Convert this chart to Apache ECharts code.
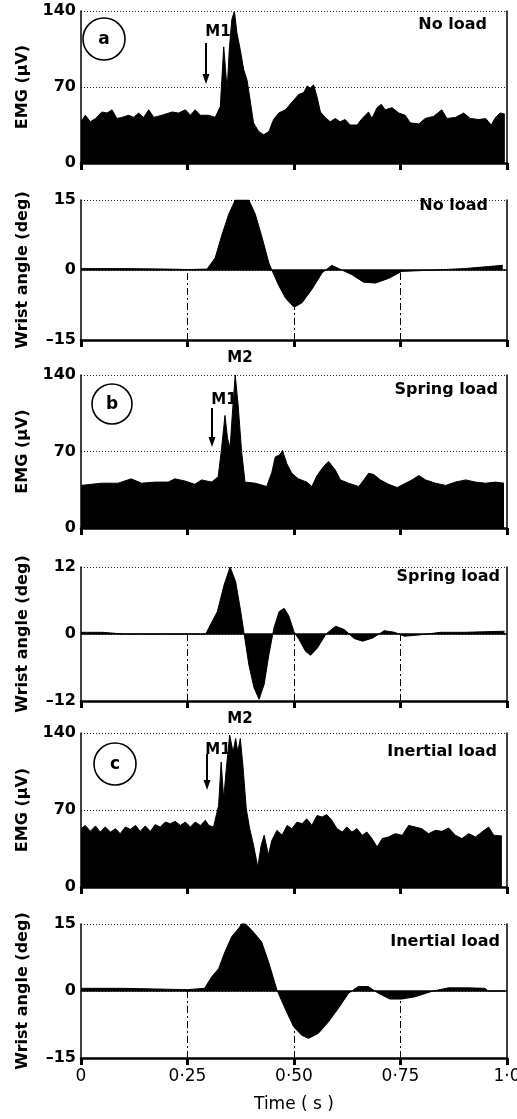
<!DOCTYPE html>
<html><head><meta charset="utf-8">
<style>html,body{margin:0;padding:0;background:#fff}#c{width:517px;height:1119px}</style>
<script src="https://cdn.jsdelivr.net/npm/echarts@6/dist/echarts.min.js"></script>
</head><body><div id="c"></div><script>
// ---- data ----
const timeTicks = [0, 0.25, 0.5, 0.75, 1];
const timeTickLabels = ['0', '0·25', '0·50', '0·75', '1·0'];
const conditions = ['No load', 'Spring load', 'Inertial load'];
const panelLetters = ['a', 'b', 'c'];
const emgRange = [0, 140];
const angleRanges = [[-15, 15], [-12, 12], [-15, 15]];

const emgNoLoad = [[0,38],[0.01,44],[0.022,38],[0.034,41],[0.049,47],[0.061,46],[0.073,49],[0.084,41],[0.096,42],[0.112,44],[0.124,42],[0.135,46],[0.147,42],[0.159,49],[0.171,42],[0.19,44],[0.214,47],[0.229,46],[0.245,49],[0.257,44],[0.268,49],[0.28,44],[0.30,44],[0.315,42],[0.327,52],[0.335,107],[0.339,88],[0.343,67],[0.348,104],[0.354,132],[0.36,140],[0.366,120],[0.374,104],[0.382,86],[0.39,76],[0.397,58],[0.405,37],[0.417,29],[0.429,26],[0.441,29],[0.452,40],[0.464,46],[0.48,49],[0.495,56],[0.511,63],[0.523,65],[0.531,71],[0.538,69],[0.546,72],[0.554,61],[0.562,47],[0.573,42],[0.585,38],[0.597,41],[0.608,38],[0.62,40],[0.632,35],[0.648,35],[0.66,41],[0.675,47],[0.683,41],[0.695,51],[0.705,54],[0.714,49],[0.73,51],[0.746,46],[0.761,44],[0.773,37],[0.793,36],[0.808,41],[0.828,43],[0.847,49],[0.859,41],[0.879,42],[0.898,46],[0.914,41],[0.934,40],[0.95,41],[0.963,35],[0.973,42],[0.984,46],[0.995,45]];

const angleNoLoad = [[0,0.3],[0.1,0.3],[0.2,0.2],[0.25,0.1],[0.296,0.2],[0.315,2.6],[0.331,7.6],[0.347,12],[0.362,15],[0.378,15],[0.394,15],[0.409,12],[0.425,7],[0.441,1.5],[0.448,0],[0.464,-3.3],[0.48,-6],[0.5,-8],[0.519,-7],[0.543,-4],[0.566,-0.6],[0.589,1],[0.605,0.3],[0.636,-1],[0.663,-2.6],[0.691,-2.8],[0.722,-1.8],[0.753,-0.3],[0.83,0],[0.9,0.3],[0.99,1]];

const emgSpring = [[0,39],[0.048,41],[0.087,41],[0.118,45],[0.142,41],[0.173,42],[0.205,42],[0.22,45],[0.244,43],[0.267,40],[0.283,44],[0.307,42],[0.322,47],[0.33,73],[0.338,103],[0.344,82],[0.35,73],[0.355,103],[0.362,140],[0.369,112],[0.377,70],[0.385,42],[0.409,41],[0.436,38],[0.448,51],[0.456,65],[0.467,67],[0.473,71],[0.483,59],[0.495,50],[0.51,45],[0.53,42],[0.542,38],[0.554,48],[0.569,56],[0.581,61],[0.597,53],[0.609,44],[0.628,41],[0.652,38],[0.664,44],[0.675,50],[0.687,49],[0.703,44],[0.722,40],[0.742,37],[0.762,41],[0.777,44],[0.793,48],[0.809,44],[0.832,41],[0.856,39],[0.879,42],[0.903,44],[0.926,42],[0.95,41],[0.973,42],[0.993,41]];

const angleSpring = [[0,0.3],[0.05,0.3],[0.1,0],[0.2,0],[0.293,0],[0.30,1.1],[0.32,4],[0.336,8.8],[0.35,12],[0.363,9.4],[0.375,4],[0.383,0],[0.394,-5.5],[0.406,-9.6],[0.418,-11.7],[0.43,-9],[0.441,-3.7],[0.453,1.1],[0.465,4],[0.477,4.6],[0.488,3.2],[0.5,0.4],[0.512,-1],[0.527,-3.1],[0.539,-3.8],[0.555,-2.5],[0.575,0],[0.598,1.4],[0.618,0.8],[0.641,-0.8],[0.661,-1.3],[0.685,-0.7],[0.712,0.6],[0.736,0.3],[0.759,-0.4],[0.79,-0.2],[0.845,0.3],[0.9,0.3],[0.994,0.5]];

const emgInertial = [[0,53],[0.01,56],[0.022,50.6],[0.034,55.5],[0.045,50],[0.057,54.5],[0.069,50],[0.081,53],[0.092,48.5],[0.104,54.5],[0.116,52.4],[0.128,56],[0.139,50.6],[0.151,55.5],[0.163,50.6],[0.174,56.7],[0.186,54.5],[0.198,59],[0.21,57.6],[0.221,59.7],[0.233,56],[0.245,59],[0.257,54.5],[0.268,59],[0.28,56],[0.292,60.6],[0.30,56],[0.311,54.5],[0.323,74],[0.329,113.6],[0.335,80],[0.341,107.6],[0.349,138],[0.357,122.7],[0.363,135],[0.368,122.7],[0.374,135],[0.38,110.6],[0.388,71],[0.396,53],[0.405,38],[0.415,18],[0.423,38],[0.43,47],[0.44,29],[0.448,42.4],[0.46,51.5],[0.472,47],[0.484,56],[0.495,53],[0.507,59],[0.519,57.6],[0.53,62],[0.542,56],[0.554,65],[0.566,63.6],[0.577,65.8],[0.589,60.6],[0.601,53],[0.613,50],[0.624,54.5],[0.636,50],[0.648,53],[0.66,47],[0.671,50],[0.683,44],[0.695,36.4],[0.707,44],[0.722,45.5],[0.738,48.5],[0.754,47],[0.769,56],[0.785,54.5],[0.80,53],[0.816,48.5],[0.832,51.5],[0.847,50.6],[0.863,53.6],[0.879,47],[0.894,44],[0.91,48.5],[0.926,45.5],[0.941,50],[0.957,54.5],[0.969,47],[0.988,46.4]];

const angleInertial = [[0,0.6],[0.1,0.6],[0.2,0.4],[0.25,0.3],[0.29,0.6],[0.307,3.2],[0.323,5],[0.338,8.8],[0.354,12.2],[0.37,14],[0.381,15.5],[0.40,13.7],[0.424,11],[0.44,6.6],[0.46,0.2],[0.479,-3.9],[0.499,-8],[0.518,-9.9],[0.534,-10.6],[0.557,-9.5],[0.581,-6.9],[0.604,-3.9],[0.628,-0.5],[0.651,1],[0.674,1],[0.698,-0.5],[0.725,-1.8],[0.753,-1.8],[0.784,-1.3],[0.823,-0.1],[0.862,0.7],[0.909,0.7],[0.948,0.6],[0.956,0],[0.995,0]];

const emgSeries = [emgNoLoad, emgSpring, emgInertial];
const angleSeries = [angleNoLoad, angleSpring, angleInertial];

// ---- layout ----
const FONT = 'DejaVu Sans';
const panels = [
  {top: 11, height: 152}, {top: 200, height: 140},
  {top: 375, height: 153}, {top: 567, height: 134},
  {top: 733, height: 154}, {top: 924, height: 134}
];
const LEFT = 81, RIGHT = 10;

function valueAt(data, t) {
  for (let i = 1; i < data.length; i++) {
    if (data[i][0] >= t) {
      const a = data[i - 1], b = data[i];
      return a[1] + (b[1] - a[1]) * (t - a[0]) / (b[0] - a[0]);
    }
  }
  return data[data.length - 1][1];
}
const fmtNum = v => (v < 0 ? '–' + Math.abs(v) : String(v));

const grid = [], xAxis = [], yAxis = [], series = [];
panels.forEach((p, i) => {
  const isEmg = i % 2 === 0;
  const k = Math.floor(i / 2);
  const range = isEmg ? emgRange : angleRanges[k];
  grid.push({left: LEFT, right: RIGHT, top: p.top, height: p.height,
    containLabel: false, outerBoundsMode: 'none'});
  const last = i === panels.length - 1;
  xAxis.push({
    gridIndex: i, type: 'value', min: 0, max: 1, interval: 0.25,
    axisLine: {show: true, onZero: false, lineStyle: {color: '#000', width: 2.5}},
    axisTick: {show: true, length: 7, inside: false, lineStyle: {color: '#000', width: 3}},
    axisLabel: {show: last, color: '#000', fontFamily: FONT, fontSize: 17, margin: 10,
      formatter: v => timeTickLabels[timeTicks.indexOf(v)] ?? ''},
    splitLine: {show: false},
    name: last ? 'Time ( s )' : '', nameLocation: 'middle', nameGap: 38,
    nameTextStyle: {color: '#000', fontFamily: FONT, fontSize: 17}
  });
  yAxis.push({
    gridIndex: i, type: 'value', min: range[0], max: range[1],
    interval: isEmg ? 70 : range[1],
    axisLine: {show: true, lineStyle: {color: '#000', width: 1.5}},
    axisTick: {show: false},
    axisLabel: {color: '#000', fontFamily: FONT, fontSize: 16, fontWeight: 'bold', margin: 5,
      formatter: fmtNum},
    splitLine: {show: true, lineStyle: {color: '#222', width: 1, type: [1, 2]}},
    name: isEmg ? 'EMG (μV)' : 'Wrist angle (deg)', nameLocation: 'middle', nameGap: 50,
    nameTextStyle: {color: '#000', fontFamily: FONT, fontSize: 16, fontWeight: 'bold'}
  });
  yAxis.push({
    gridIndex: i, type: 'value', min: range[0], max: range[1], position: 'right',
    axisLine: {show: true, lineStyle: {color: '#000', width: 1.5}},
    axisTick: {show: false}, axisLabel: {show: false}, splitLine: {show: false}
  });
  const data = isEmg ? emgSeries[k] : angleSeries[k];
  const s = {
    type: 'line', xAxisIndex: i, yAxisIndex: 2 * i, data: data,
    showSymbol: false, symbol: 'none', silent: true, animation: false,
    lineStyle: {color: '#000', width: 1}, areaStyle: {color: '#000', opacity: 1}
  };
  if (!isEmg) {
    const ml = [[{coord: [0, 0]}, {coord: [1, 0]}]];
    [0.25, 0.5, 0.75].forEach(t => {
      const top = Math.min(0, valueAt(data, t));
      ml.push([{coord: [t, range[0]], lineStyle: {type: [7, 3, 2, 3], width: 1, color: '#000'}},
               {coord: [t, top]}]);
    });
    s.markLine = {silent: true, symbol: 'none', animation: false, label: {show: false},
      lineStyle: {color: '#000', width: 1.5, type: 'solid'}, data: ml};
  }
  series.push(s);
});

// ---- annotations ----
const txt = (x, y, text, size, align) => ({
  type: 'text', x: x, y: y, silent: true,
  style: {text: text, fill: '#000', font: `bold ${size}px "${FONT}"`, align: align || 'center', verticalAlign: 'middle'}
});
const arrow = (x, y1, y2) => ({
  type: 'group', silent: true, children: [
    {type: 'line', shape: {x1: x, y1: y1, x2: x, y2: y2 - 8}, style: {stroke: '#000', lineWidth: 2}},
    {type: 'polygon', shape: {points: [[x - 3.5, y2 - 10], [x + 3.5, y2 - 10], [x, y2]]}, style: {fill: '#000'}}
  ]
});
const circle = (cx, cy, r) => ({type: 'circle', silent: true, shape: {cx: cx, cy: cy, r: r},
  style: {fill: 'none', stroke: '#000', lineWidth: 1.6}});

const graphic = [
  circle(104, 39, 21), txt(104, 40, panelLetters[0], 17),
  circle(112, 404, 20), txt(112, 405, panelLetters[1], 17),
  circle(115, 764, 21), txt(115, 765, panelLetters[2], 17),
  txt(218, 32, 'M1', 15), arrow(206, 43, 84),
  txt(224, 400, 'M1', 15), arrow(212, 408, 447),
  txt(218, 750, 'M1', 15), arrow(207, 754, 790),
  txt(240, 358, 'M2', 15), txt(240, 719, 'M2', 15),
  txt(487, 25, conditions[0], 16, 'right'),
  txt(488, 206, conditions[0], 16, 'right'),
  txt(498, 390, conditions[1], 16, 'right'),
  txt(500, 577, conditions[1], 16, 'right'),
  txt(497, 752, conditions[2], 16, 'right'),
  txt(500, 942, conditions[2], 16, 'right')
];

const chart = echarts.init(document.getElementById('c'), null, {renderer: 'canvas'});
chart.setOption({animation: false, backgroundColor: '#fff', grid, xAxis, yAxis, series, graphic});
</script></body></html>
